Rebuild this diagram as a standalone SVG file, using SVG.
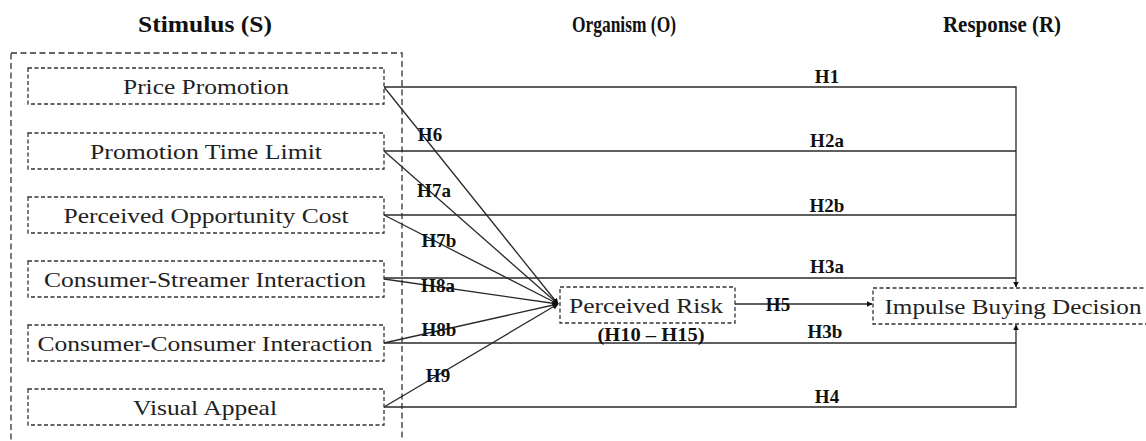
<svg xmlns="http://www.w3.org/2000/svg" width="1146" height="441" viewBox="0 0 1146 441">
<style>
.bg{fill:#fff}
.outer{fill:none;stroke:#333;stroke-width:1.3;stroke-dasharray:6 3.5}
.box{fill:#fff;stroke:#333;stroke-width:1.3;stroke-dasharray:4 2.5}
.t{font-family:"Liberation Serif",serif;font-size:21px;fill:#222;text-anchor:middle}
.title{font-family:"Liberation Serif",serif;font-size:23px;font-weight:bold;fill:#111;text-anchor:middle}
.lbl{font-family:"Liberation Serif",serif;font-size:19px;font-weight:bold;fill:#111;text-anchor:middle}
.ln{fill:none;stroke:#2a2a2a;stroke-width:1.3}
</style>
<defs>
<marker id="ah" viewBox="0 0 10 10" refX="9" refY="5" markerWidth="6" markerHeight="6" markerUnits="userSpaceOnUse" orient="auto">
<path d="M0,0 L10,5 L0,10 z" fill="#111"/>
</marker>
</defs>
<rect class="bg" x="0" y="0" width="1146" height="441"/>
<text class="title" x="205" y="32" textLength="134" lengthAdjust="spacingAndGlyphs">Stimulus (S)</text>
<text class="title" x="624" y="32" textLength="104" lengthAdjust="spacingAndGlyphs">Organism (O)</text>
<text class="title" x="1002" y="32" textLength="118" lengthAdjust="spacingAndGlyphs">Response (R)</text>
<rect class="outer" x="11" y="53" width="391" height="396"/>
<g id="connectors">
<polyline class="ln" points="384,87 1016,87 1016,287" marker-end="url(#ah)"/>
<line class="ln" x1="384" y1="151" x2="1016" y2="151"/>
<line class="ln" x1="384" y1="215" x2="1016" y2="215"/>
<line class="ln" x1="384" y1="278" x2="1016" y2="278"/>
<line class="ln" x1="384" y1="343" x2="1016" y2="343"/>
<polyline class="ln" points="384,407 1016,407 1016,325" marker-end="url(#ah)"/>
<line class="ln" x1="384" y1="87" x2="558" y2="304" marker-end="url(#ah)"/>
<line class="ln" x1="384" y1="151" x2="558" y2="304" marker-end="url(#ah)"/>
<line class="ln" x1="384" y1="215" x2="558" y2="304" marker-end="url(#ah)"/>
<line class="ln" x1="384" y1="279" x2="558" y2="304" marker-end="url(#ah)"/>
<line class="ln" x1="384" y1="343" x2="558" y2="304" marker-end="url(#ah)"/>
<line class="ln" x1="384" y1="407" x2="558" y2="304" marker-end="url(#ah)"/>
<circle cx="555" cy="304" r="2.5" fill="#111"/>
<line class="ln" x1="735" y1="304" x2="872" y2="304" marker-end="url(#ah)"/>
<text class="lbl" x="827" y="83">H1</text>
<text class="lbl" x="827" y="147">H2a</text>
<text class="lbl" x="827" y="212">H2b</text>
<text class="lbl" x="827" y="273">H3a</text>
<text class="lbl" x="825" y="338">H3b</text>
<text class="lbl" x="827" y="403">H4</text>
<text class="lbl" x="778" y="311">H5</text>
<text class="lbl" x="430" y="141">H6</text>
<text class="lbl" x="434" y="197">H7a</text>
<text class="lbl" x="439" y="247">H7b</text>
<text class="lbl" x="438" y="292">H8a</text>
<text class="lbl" x="439" y="336">H8b</text>
<text class="lbl" x="438" y="382">H9</text>
</g>
<g id="price-promotion"><rect class="box" x="28" y="68" width="356" height="36"/><text class="t" x="206" y="94" textLength="166" lengthAdjust="spacingAndGlyphs">Price Promotion</text></g>
<g id="promotion-time-limit"><rect class="box" x="28" y="133" width="356" height="36"/><text class="t" x="206" y="159" textLength="232" lengthAdjust="spacingAndGlyphs">Promotion Time Limit</text></g>
<g id="perceived-opportunity-cost"><rect class="box" x="28" y="197" width="356" height="36"/><text class="t" x="206" y="223" textLength="285" lengthAdjust="spacingAndGlyphs">Perceived Opportunity Cost</text></g>
<g id="consumer-streamer-interaction"><rect class="box" x="28" y="261" width="356" height="36"/><text class="t" x="205" y="287" textLength="322" lengthAdjust="spacingAndGlyphs">Consumer-Streamer Interaction</text></g>
<g id="consumer-consumer-interaction"><rect class="box" x="28" y="325" width="356" height="36"/><text class="t" x="205" y="351" textLength="335" lengthAdjust="spacingAndGlyphs">Consumer-Consumer Interaction</text></g>
<g id="visual-appeal"><rect class="box" x="28" y="389" width="356" height="36"/><text class="t" x="205" y="415" textLength="144" lengthAdjust="spacingAndGlyphs">Visual Appeal</text></g>
<g id="perceived-risk"><rect class="box" x="560" y="287" width="175" height="36"/><text class="t" x="646" y="313" textLength="154" lengthAdjust="spacingAndGlyphs">Perceived Risk</text><text class="lbl" x="651" y="341" textLength="107" lengthAdjust="spacingAndGlyphs">(H10 – H15)</text></g>
<g id="impulse-buying-decision"><rect class="box" x="873" y="288" width="276" height="36"/><text class="t" x="1013" y="314" textLength="257" lengthAdjust="spacingAndGlyphs">Impulse Buying Decision</text></g>
</svg>
